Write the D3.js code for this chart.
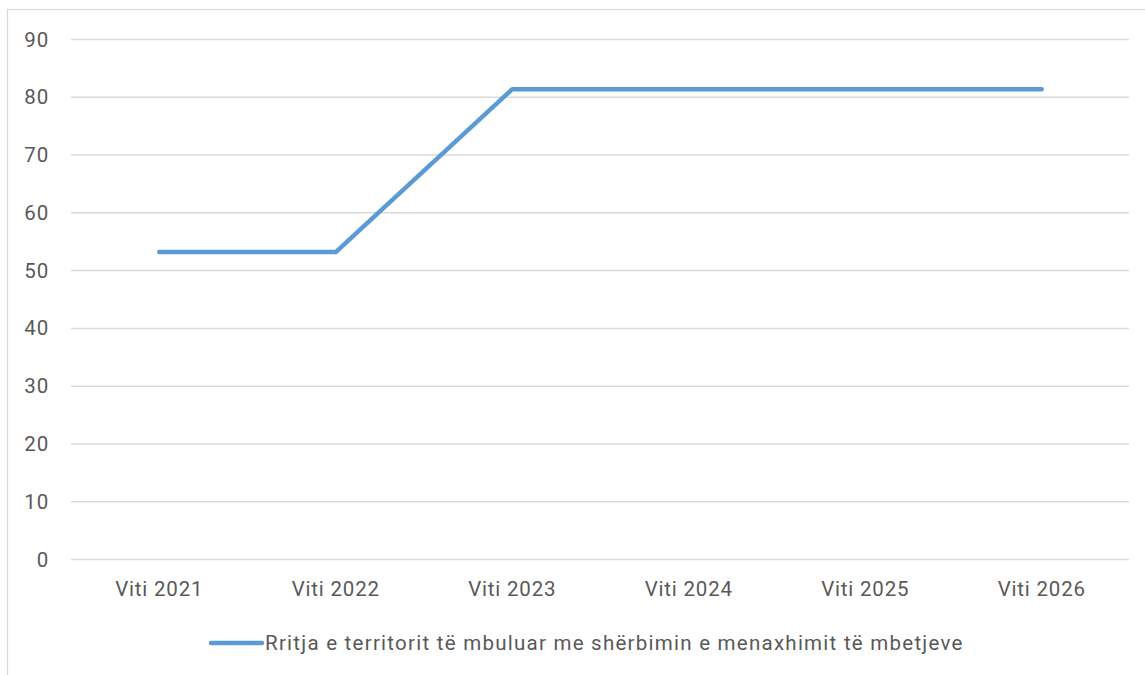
<!DOCTYPE html>
<meta charset="utf-8">
<head>
  <title>Rritja e territorit</title>
</head>
<style>
body { margin: 0; background: #fff; font-family: Roboto, "Open Sans", sans-serif; }
.lbl { fill: #595959; font-size: 20.5px; font-family: Roboto, sans-serif; letter-spacing: 0.8px; }
.leg { letter-spacing: 1.25px; }
</style>
<body>
  <div id="content"></div>
  <script src="https://cdnjs.cloudflare.com/ajax/libs/d3/7.8.5/d3.min.js"></script>
  <script>
// data
var years = ['Viti 2021', 'Viti 2022', 'Viti 2023', 'Viti 2024', 'Viti 2025', 'Viti 2026'];
var values = [53.2, 53.2, 81.4, 81.4, 81.4, 81.4];
var yTicks = [0, 10, 20, 30, 40, 50, 60, 70, 80, 90];
var seriesName = 'Rritja e territorit të mbuluar me shërbimin e menaxhimit të mbetjeve';

var W = 1145, H = 675;
var plotL = 71, plotR = 1130, plotT = 39.5, plotB = 559.5;

var svg = d3.select('#content').append('svg')
  .attr('width', W).attr('height', H);

// frame of the chart area
svg.append('rect')
  .attr('x', 7.5).attr('y', 9.5)
  .attr('width', W + 10).attr('height', H + 10)
  .attr('fill', 'none').attr('stroke', '#d9d9d9').attr('stroke-width', 1.2);

var x = d3.scaleBand().domain(years).range([plotL, plotR]);
var y = d3.scaleLinear().domain([0, 90]).range([plotB, plotT]);

// gridlines
svg.append('g').selectAll('line').data(yTicks).join('line')
  .attr('x1', plotL).attr('x2', plotR - 1)
  .attr('y1', function(d) { return y(d); }).attr('y2', function(d) { return y(d); })
  .attr('stroke', '#d9d9d9').attr('stroke-width', 1.5);

// y axis labels
var yAxis = d3.axisLeft(y).tickValues(yTicks).tickSize(0).tickPadding(0);
var gy = svg.append('g').attr('transform', 'translate(49,0)').call(yAxis);
gy.select('.domain').remove();
gy.selectAll('text').attr('class', 'lbl').attr('fill', null);
gy.attr('font-size', null).attr('font-family', null);

// x axis labels
var xAxis = d3.axisBottom(x).tickSize(0).tickPadding(0);
var gx = svg.append('g').attr('transform', 'translate(0,' + (plotB + 22) + ')').call(xAxis);
gx.select('.domain').remove();
gx.selectAll('text').attr('class', 'lbl').attr('fill', null);
gx.attr('font-size', null).attr('font-family', null);

// series line
var line = d3.line()
  .x(function(d, i) { return x(years[i]) + x.bandwidth() / 2; })
  .y(function(d) { return y(d); });

svg.append('path')
  .datum(values)
  .attr('d', line)
  .attr('fill', 'none')
  .attr('stroke', '#5b9bd5')
  .attr('stroke-width', 4.5)
  .attr('stroke-linejoin', 'round')
  .attr('stroke-linecap', 'round');

// legend
var lg = svg.append('g').attr('transform', 'translate(0,643)');
lg.append('line')
  .attr('x1', 211).attr('x2', 262).attr('y1', 0).attr('y2', 0)
  .attr('stroke', '#5b9bd5').attr('stroke-width', 4.5).attr('stroke-linecap', 'round');
lg.append('text')
  .attr('class', 'lbl leg')
  .attr('x', 265).attr('y', 0).attr('dy', '0.35em')
  .text(seriesName);
  </script>
</body>
</html>
